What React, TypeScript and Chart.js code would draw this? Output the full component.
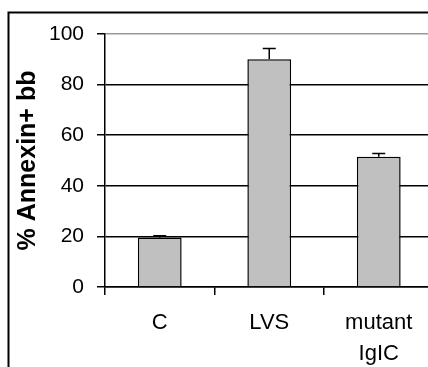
import React, { useEffect, useRef } from "react";
import { Chart, registerables } from "chart.js";

Chart.register(...registerables);

const categories: (string | string[])[] = ["C", "LVS", ["mutant", "IgIC"]];
const means: number[] = [19.6, 90.0, 51.5];
const errors: number[] = [0.7, 4.3, 1.3];
const yTicks: number[] = [0, 20, 40, 60, 80, 100];

const FONT = "'Liberation Sans', Arial, Helvetica, sans-serif";

const errorBarPlugin = {
  id: "errorBars",
  afterDatasetsDraw(chart: any) {
    const ctx = chart.ctx;
    const meta = chart.getDatasetMeta(0);
    const y = chart.scales.y;
    ctx.save();
    ctx.strokeStyle = "#000";
    ctx.lineWidth = 1.5;
    meta.data.forEach((bar: any, i: number) => {
      const x = bar.x;
      const top = y.getPixelForValue(means[i]);
      const hi = y.getPixelForValue(means[i] + errors[i]);
      ctx.beginPath();
      ctx.moveTo(x, top);
      ctx.lineTo(x, hi);
      ctx.moveTo(x - 6.5, hi);
      ctx.lineTo(x + 6.5, hi);
      ctx.stroke();
    });
    ctx.restore();
  },
};

const framePlugin = {
  id: "frame",
  afterDraw(chart: any) {
    const ctx = chart.ctx;
    ctx.save();
    ctx.strokeStyle = "#000";
    ctx.lineWidth = 2;
    ctx.strokeRect(8.5, 12.5, 600, 600);
    ctx.restore();
  },
};

export default function App() {
  const ref = useRef<HTMLCanvasElement | null>(null);
  useEffect(() => {
    if (!ref.current) return;
    const chart = new Chart(ref.current, {
      type: "bar",
      data: {
        labels: categories,
        datasets: [
          {
            data: means,
            backgroundColor: "#c0c0c0",
            borderColor: "#000",
            borderWidth: 1.5,
            barPercentage: 0.4,
            categoryPercentage: 1,
          },
        ],
      },
      options: {
        responsive: false,
        animation: false,
        layout: { padding: { top: 34, right: 6.5, bottom: 0, left: 0 } },
        plugins: { legend: { display: false }, tooltip: { enabled: false } },
        scales: {
          x: {
            offset: true,
            grid: {
              display: true,
              drawOnChartArea: false,
              offset: true,
              tickLength: 8,
              lineWidth: 1.5,
              color: "#000",
              tickColor: "#000",
            },
            border: { display: true, color: "#000", width: 1.5 },
            ticks: {
              color: "#000",
              padding: 13,
              maxRotation: 0,
              autoSkip: false,
              font: { family: FONT, size: 22, lineHeight: 1.4 },
            },
            afterFit(scale: any) {
              scale.height = 93;
            },
          },
          y: {
            min: 0,
            max: 100,
            afterBuildTicks(scale: any) {
              scale.ticks = yTicks.map((v) => ({ value: v }));
            },
            grid: {
              color: (c: any) => (c.tick && c.tick.value === 100 ? "#999" : "#000"),
              tickColor: "#000",
              tickLength: 8,
              lineWidth: 1.5,
            },
            border: { display: true, color: "#000", width: 1.5 },
            ticks: {
              color: "#000",
              padding: 13,
              font: { family: FONT, size: 21 },
            },
            title: {
              display: true,
              text: "% Annexin+ bb",
              color: "#000",
              padding: { top: 13, bottom: 0 },
              font: { family: FONT, size: 25, weight: "bold" },
            },
            afterFit(scale: any) {
              scale.width = 105;
            },
          },
        },
      },
      plugins: [errorBarPlugin, framePlugin],
    });
    return () => chart.destroy();
  }, []);

  return (
    <div
      style={{
        position: "fixed",
        left: 0,
        top: 0,
        width: 428,
        height: 367,
        overflow: "hidden",
        background: "#fff",
      }}
    >
      <canvas ref={ref} width={440} height={380} style={{ display: "block" }} />
    </div>
  );
}
